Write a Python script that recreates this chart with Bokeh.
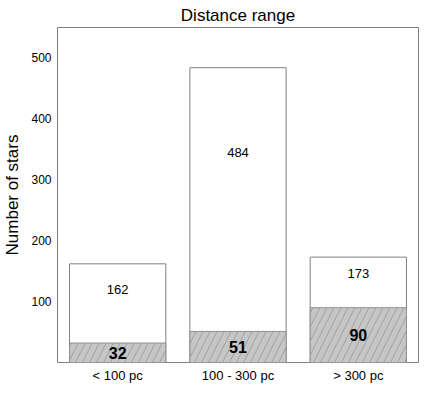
from bokeh.plotting import figure
from bokeh.models import FactorRange, Range1d, FixedTicker
from bokeh.embed import file_html
from bokeh.resources import INLINE
from bokeh.core.properties import value

# ---- data ----
categories = ["< 100 pc", "100 - 300 pc", "> 300 pc"]
totals = [162, 484, 173]
nearby = [32, 51, 90]
y_ticks = [100, 200, 300, 400, 500]

FONT = value("Liberation Sans")

p = figure(
    width=419, height=385,
    x_range=FactorRange(factors=categories, range_padding=0),
    y_range=Range1d(0, 550),
    output_backend="svg", toolbar_location=None,
    title="Distance range", y_axis_label="Number of stars",
    min_border_left=0, min_border_right=1, min_border_bottom=0, min_border_top=0,
)

p.title.align = "center"
p.title.text_font = "Liberation Sans"
p.title.text_font_size = "17px"
p.title.text_font_style = "normal"
p.title.text_color = "black"
p.title.offset = 0
p.title.standoff = 6

p.outline_line_color = "#808080"
p.outline_line_width = 1
p.xgrid.grid_line_color = None
p.ygrid.grid_line_color = None

for ax in (p.xaxis[0], p.yaxis[0]):
    ax.axis_line_color = None
    ax.major_tick_line_color = None
    ax.minor_tick_line_color = None
    ax.major_tick_out = 0
    ax.major_tick_in = 0
    ax.minor_tick_out = 0
    ax.major_label_text_font = "Liberation Sans"
    ax.major_label_text_color = "black"

p.yaxis.ticker = FixedTicker(ticks=y_ticks)
p.yaxis.major_label_text_font_size = "12px"
p.yaxis.major_label_standoff = 6
p.yaxis.axis_label_text_font = "Liberation Sans"
p.yaxis.axis_label_text_font_size = "17px"
p.yaxis.axis_label_text_font_style = "normal"
p.yaxis.axis_label_text_color = "black"
p.yaxis.axis_label_standoff = 6

p.xaxis.major_label_text_font_size = "13px"
p.xaxis.major_label_standoff = 5

# total bars
p.vbar(x=categories, top=totals, width=0.8, fill_color="white",
       line_color="#808080", line_width=1)
# hatched subset bars
p.vbar(x=categories, top=nearby, width=0.8, fill_color="#c6c6c6",
       line_color="#909090", line_width=1,
       hatch_pattern="/", hatch_color="#909090", hatch_scale=14, hatch_weight=0.7)

total_label_y = [n + 0.68 * (t - n) for t, n in zip(totals, nearby)]
near_label_y = [n / 2 for n in nearby]

p.text(x=categories, y=total_label_y, text=[str(t) for t in totals],
       text_align="center", text_baseline="middle", text_font=FONT,
       text_font_size="13px", text_color="black")
p.text(x=categories, y=near_label_y, text=[str(n) for n in nearby],
       text_align="center", text_baseline="middle", text_font=FONT,
       text_font_size="16px", text_font_style="bold", text_color="black")

open("out.html", "w").write(file_html(p, INLINE))
